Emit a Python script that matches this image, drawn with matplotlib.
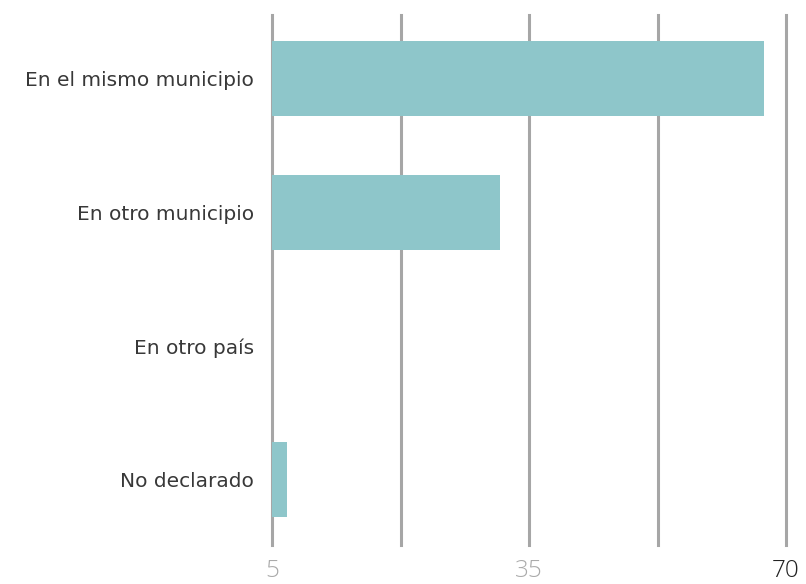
import matplotlib.pyplot as plt

categories = ['En el mismo municipio', 'En otro municipio', 'En otro país', 'No declarado']
values = [67.0, 31.0, 0.0, 2.0]
tick_positions = [0, 17.5, 35, 52.5, 70]
tick_labels = ['5', '', '35', '', '70']
tick_colors = ['#aaaaaa', '#aaaaaa', '#aaaaaa', '#aaaaaa', '#222222']

plt.rcParams['font.family'] = ['DejaVu Sans']

fig = plt.figure(figsize=(8.06, 5.84), dpi=100)
ax = fig.add_axes([272 / 806, 1 - 545 / 584, (786 - 272) / 806, (545 - 15) / 584])

ypos = list(range(len(categories)))
ax.barh(ypos, values, height=0.56, color='#8ec6ca', zorder=2)

ax.set_xlim(0, 70)
ax.set_ylim(3.49, -0.475)
ax.set_xticks(tick_positions)
ax.set_xticklabels(tick_labels, fontsize=17.5, family='Open Sans', fontweight='light')
for lbl, c in zip(ax.get_xticklabels(), tick_colors):
    lbl.set_color(c)
ax.set_yticks(ypos)
ax.set_yticklabels(categories, fontsize=14.5, color='#383838')
ax.tick_params(axis='y', length=0, pad=13)
ax.tick_params(axis='x', length=0, pad=10)

for x in tick_positions:
    ax.axvline(x, color='#a6a6a6', linewidth=2.2, zorder=1, clip_on=False)

for s in ax.spines.values():
    s.set_visible(False)

fig.savefig('out.png', dpi=100)
